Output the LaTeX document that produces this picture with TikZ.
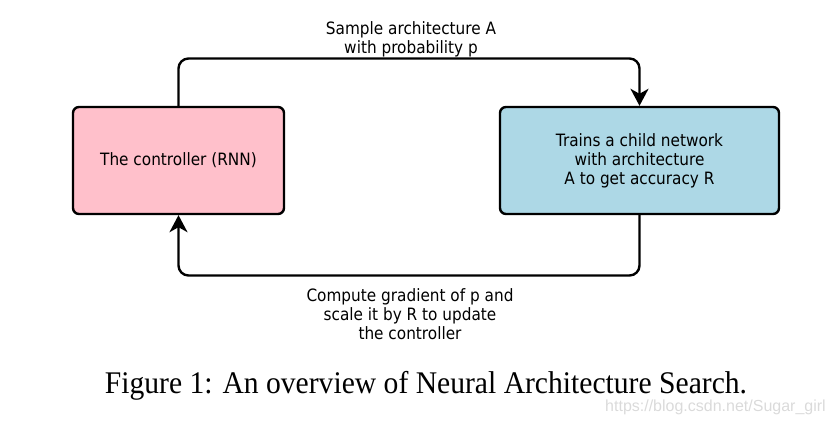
\documentclass[tikz,border=0pt]{standalone}
\usepackage{fontspec}
\usetikzlibrary{arrows.meta}
\newfontfamily\diagfont[FakeStretch=0.9]{DejaVu Sans}
\newfontfamily\capfont[FakeStretch=0.94]{Liberation Serif}
\newfontfamily\wmfont{Liberation Sans}
\definecolor{boxpink}{HTML}{FFC0CB}
\definecolor{boxblue}{HTML}{ADD8E6}
\definecolor{wmgray}{HTML}{DADADA}
\begin{document}
\begin{tikzpicture}[x=1pt,y=-1pt,
  diag/.style={font=\diagfont\fontsize{17}{19}\selectfont, align=center, inner sep=0pt},
  boxnode/.style={diag, draw=black, line width=2.4pt, rounded corners=6pt, minimum height=107pt},
  conn/.style={line width=2.4pt, rounded corners=10pt},
  arr/.style={conn, -{Stealth[length=17pt 0 1,width=18pt 0 1,inset=5pt 0 1]}}
]
\useasboundingbox (0,0) rectangle (832,422);
\node[boxnode, fill=boxpink, minimum width=211pt] (ctrl) at (178.5,160.5) {The controller (RNN)};
\node[boxnode, fill=boxblue, minimum width=279pt] (child) at (639.5,160.5) {Trains a child network\\with architecture\\A to get accuracy R};
\coordinate (top) at (410,58.5);
\coordinate (bot) at (410,275.5);
\draw[arr] (ctrl.north) |- (top) -| (child.north);
\draw[arr] (child.south) |- (bot) -| (ctrl.south);
\node[diag] (toplabel) at (411,39) {Sample architecture A\\with probability p};
\node[diag] (botlabel) at (410,314) {Compute gradient of p and\\scale it by R to update\\the controller};
\node[font=\capfont\fontsize{31.5}{34}\selectfont, anchor=base, inner sep=0pt] (caption) at (426,393) {Figure 1: An overview of Neural Architecture Search.};
\node[font=\wmfont\fontsize{16}{18}\selectfont, text=wmgray, anchor=base west, inner sep=0pt] (wm) at (605,411) {https://blog.csdn.net/Sugar\_girl};
\end{tikzpicture}
\end{document}
